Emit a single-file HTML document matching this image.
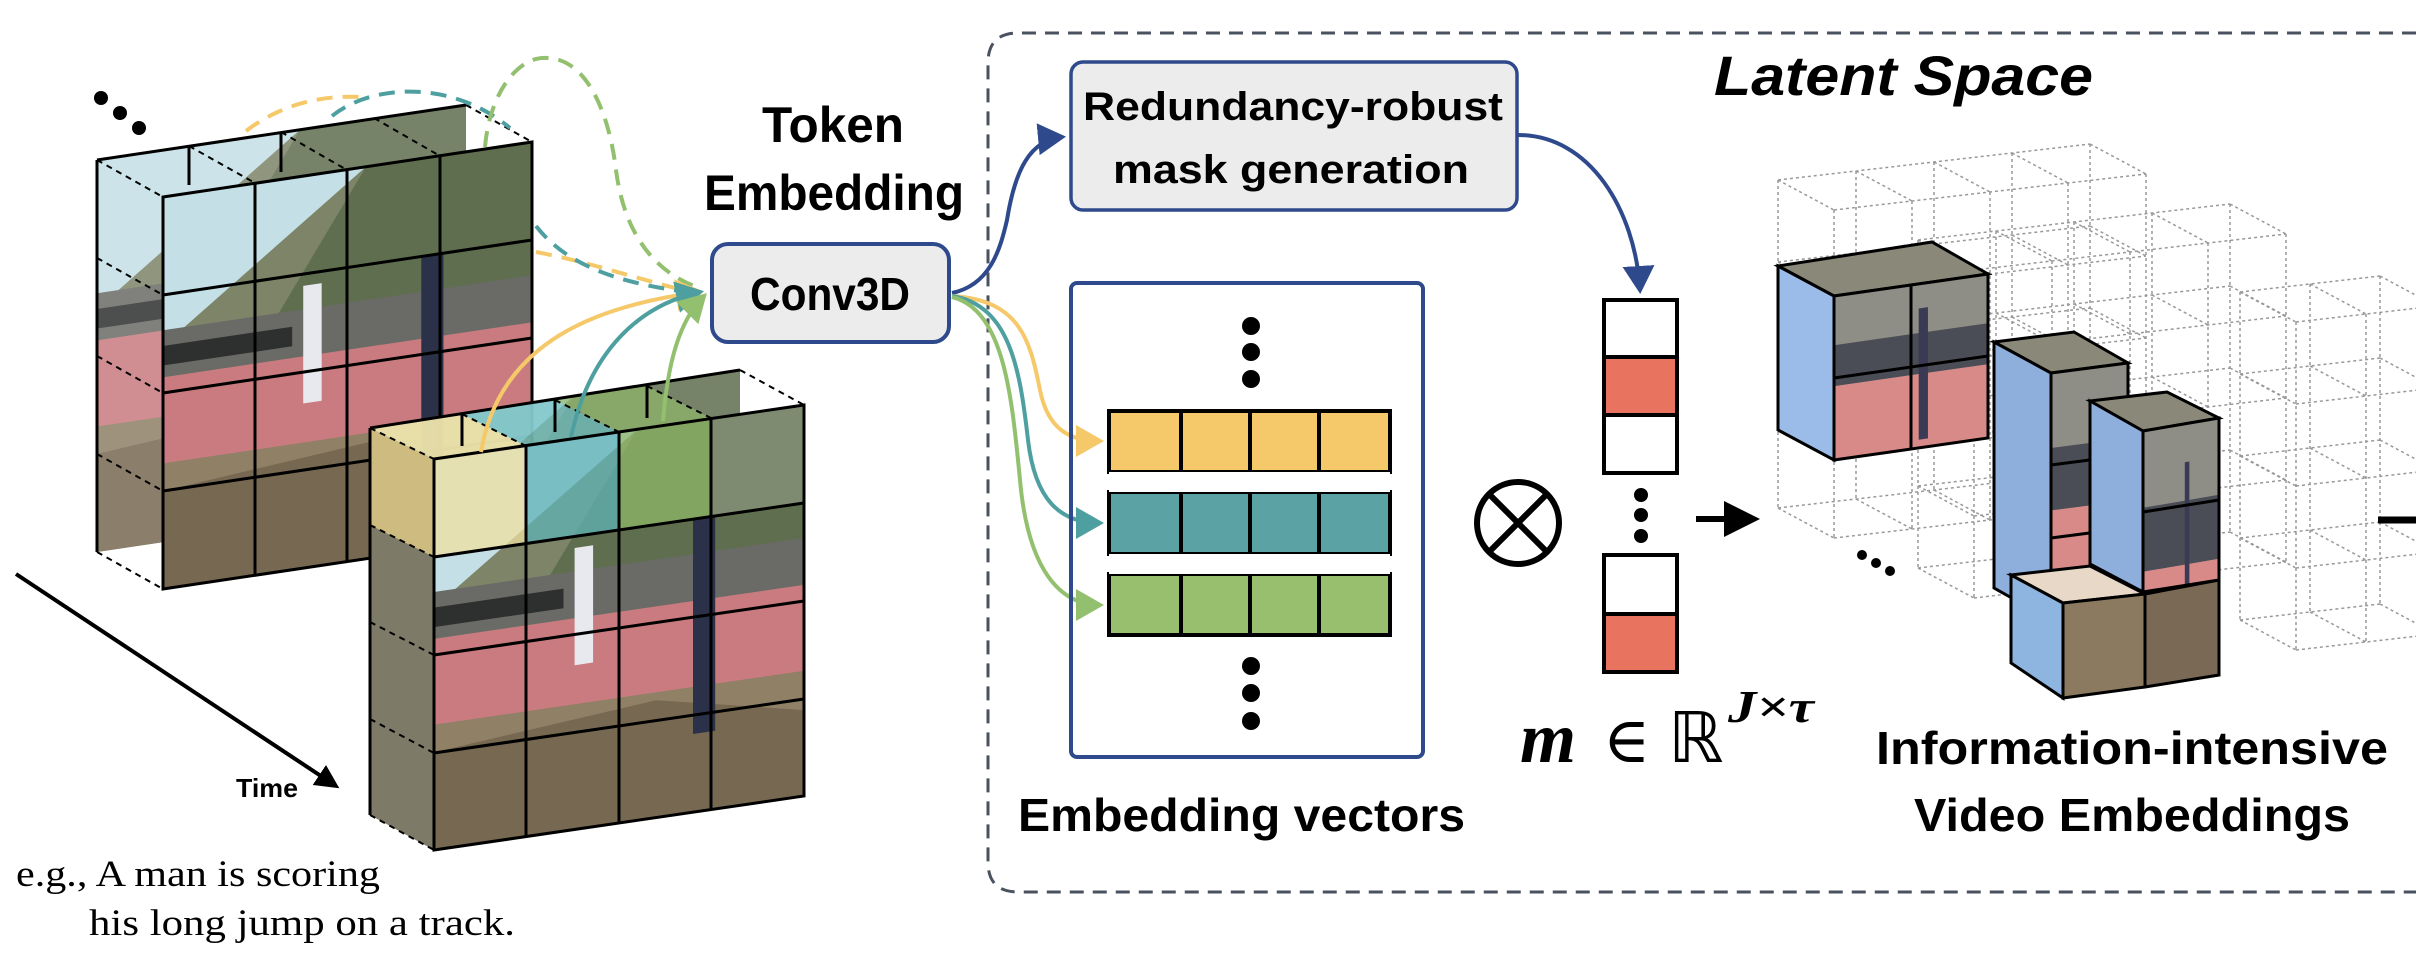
<!DOCTYPE html>
<html><head><meta charset="utf-8"><style>
html,body{margin:0;padding:0;background:#fff;}
svg{display:block;}
text{font-family:"Liberation Sans",sans-serif;font-weight:bold;fill:#000;}
</style></head><body>
<svg id="s" width="2416" height="958" viewBox="0 0 2416 958" xmlns="http://www.w3.org/2000/svg">
<defs>
<g id="photo">
  <rect x="0" y="0" width="1" height="1" fill="#7d8468"/>
  <polygon points="0,0 0.55,0 0,0.38" fill="#c4e0e6"/>
  <polygon points="0.55,0 1,0 1,0.45 0.6,0.4 0.3,0.36" fill="#5f6e4e"/>
  <rect x="0" y="0.34" width="1" height="0.12" fill="#6a6a66"/>
  <rect x="0" y="0.38" width="0.35" height="0.05" fill="#2e3030"/>
  <rect x="0" y="0.46" width="1" height="0.22" fill="#c97b7f"/>
  <rect x="0" y="0.68" width="1" height="0.32" fill="#8f8066"/>
  <polygon points="0,0.75 0.6,0.7 1,0.78 1,1 0,1" fill="#6c5e4a" opacity="0.7"/>
  <rect x="0.7" y="0.25" width="0.06" height="0.55" fill="#2b3148"/>
  <rect x="0.38" y="0.28" width="0.05" height="0.3" fill="#e8e8ef"/>
</g>
<g id="photo2">
  <rect x="0" y="0" width="1" height="1" fill="#8e8e86"/>
  <rect x="0" y="0.3" width="1" height="0.25" fill="#4a4d55"/>
  <rect x="0" y="0.55" width="1" height="0.45" fill="#d78a88"/>
  <rect x="0.55" y="0.15" width="0.06" height="0.8" fill="#3a3a55"/>
</g>
<marker id="ab" markerWidth="8" markerHeight="8" refX="6" refY="4" orient="auto" markerUnits="strokeWidth"><path d="M0,0 L7,4 L0,8 Z" fill="#2e4a8c"/></marker>
<marker id="ay" markerWidth="8" markerHeight="8" refX="6" refY="4" orient="auto" markerUnits="strokeWidth"><path d="M0,0 L7,4 L0,8 Z" fill="#f5c96a"/></marker>
<marker id="at" markerWidth="8" markerHeight="8" refX="6" refY="4" orient="auto" markerUnits="strokeWidth"><path d="M0,0 L7,4 L0,8 Z" fill="#4e9fa0"/></marker>
<marker id="ag" markerWidth="8" markerHeight="8" refX="6" refY="4" orient="auto" markerUnits="strokeWidth"><path d="M0,0 L7,4 L0,8 Z" fill="#93c06e"/></marker>
<marker id="ak" markerWidth="6" markerHeight="6" refX="5" refY="3" orient="auto" markerUnits="strokeWidth"><path d="M0,0 L6,3 L0,6 Z" fill="#000"/></marker>
</defs>

<path d="M2416,33 L1018,33 Q988,33 988,63 L988,862 Q988,892 1018,892 L2416,892" fill="none" stroke="#4a5260" stroke-width="3" stroke-dasharray="14,9"/>

<!-- BACK FRAME -->
<g>
  <use href="#photo" transform="matrix(369,-55,0,392,97,160)" opacity="0.85"/>
  <use href="#photo" transform="matrix(369,-55,0,392,163,197)"/>
  <g stroke="#000" stroke-width="3" fill="none">
    <polygon points="163,197 532,142 532,534 163,589"/>
    <line x1="255" y1="183" x2="255" y2="575"/>
    <line x1="347" y1="170" x2="347" y2="562"/>
    <line x1="440" y1="156" x2="440" y2="548"/>
    <line x1="163" y1="295" x2="532" y2="240"/>
    <line x1="163" y1="393" x2="532" y2="338"/>
    <line x1="163" y1="491" x2="532" y2="436"/>
    <line x1="97" y1="160" x2="97" y2="552"/>
    <line x1="97" y1="160" x2="466" y2="105"/>
    <line x1="189" y1="146" x2="189" y2="185"/>
    <line x1="281" y1="132" x2="281" y2="172"/>
  </g>
  <g stroke="#000" stroke-width="2" stroke-dasharray="6,5" fill="none">
    <line x1="97" y1="160" x2="163" y2="197"/>
    <line x1="97" y1="258" x2="163" y2="295"/>
    <line x1="97" y1="356" x2="163" y2="393"/>
    <line x1="97" y1="454" x2="163" y2="491"/>
    <line x1="97" y1="552" x2="163" y2="589"/>
    <line x1="466" y1="105" x2="532" y2="142"/>
    <line x1="189" y1="146" x2="255" y2="183"/>
    <line x1="281" y1="132" x2="347" y2="170"/>
    <line x1="374" y1="118" x2="440" y2="156"/>
  </g>
</g>

<!-- FRONT FRAME -->
<g>
  <use href="#photo" transform="matrix(370,-58,0,387,370,428)" opacity="0.85"/>
  <polygon points="370,428 434,459 434,850 370,815" fill="#7d7a68"/>
  <use href="#photo" transform="matrix(370,-54,0,391,434,459)"/>
  <polygon points="370,428 462,414 526,446 434,459" fill="#f5e29a" opacity="0.75"/>
  <polygon points="370,428 434,459 434,557 370,525" fill="#f0d78a" opacity="0.7"/>
  <polygon points="434,459 526,446 526,544 434,557" fill="#f0e0a0" opacity="0.75"/>
  <polygon points="462,414 555,400 619,432 526,446" fill="#6cc0c2" opacity="0.7"/>
  <polygon points="526,446 619,432 619,530 526,544" fill="#5fb3b5" opacity="0.75"/>
  <polygon points="555,400 647,386 711,418 619,432" fill="#8fb86a" opacity="0.7"/>
  <polygon points="619,432 711,418 711,516 619,530" fill="#8fb86a" opacity="0.75"/>
  <polygon points="711,418 804,405 804,503 711,516" fill="#a0a894" opacity="0.5"/>
  <g stroke="#000" stroke-width="3" fill="none">
    <polygon points="434,459 804,405 804,796 434,850"/>
    <line x1="526" y1="446" x2="526" y2="837"/>
    <line x1="619" y1="432" x2="619" y2="823"/>
    <line x1="711" y1="418" x2="711" y2="810"/>
    <line x1="434" y1="557" x2="804" y2="503"/>
    <line x1="434" y1="655" x2="804" y2="601"/>
    <line x1="434" y1="753" x2="804" y2="699"/>
    <line x1="370" y1="428" x2="370" y2="815"/>
    <line x1="370" y1="428" x2="740" y2="370"/>
    <line x1="462" y1="414" x2="462" y2="446"/>
    <line x1="555" y1="400" x2="555" y2="432"/>
    <line x1="647" y1="386" x2="647" y2="418"/>
  </g>
  <g stroke="#000" stroke-width="2" stroke-dasharray="6,5" fill="none">
    <line x1="370" y1="428" x2="434" y2="459"/>
    <line x1="370" y1="525" x2="434" y2="557"/>
    <line x1="370" y1="622" x2="434" y2="655"/>
    <line x1="370" y1="719" x2="434" y2="753"/>
    <line x1="370" y1="815" x2="434" y2="850"/>
    <line x1="740" y1="370" x2="804" y2="405"/>
    <line x1="462" y1="414" x2="526" y2="446"/>
    <line x1="555" y1="400" x2="619" y2="432"/>
    <line x1="647" y1="386" x2="711" y2="418"/>
  </g>
</g>

<circle cx="101" cy="98" r="7"/><circle cx="120" cy="113" r="7"/><circle cx="139" cy="128" r="7"/>

<g fill="none" stroke-width="4" stroke-dasharray="16,10">
  <path d="M246,131 C280,105 320,95 360,97" stroke="#f5c96a"/>
  <path d="M536,252 C590,262 640,280 695,293" stroke="#f5c96a"/>
  <path d="M332,116 C370,85 450,78 510,128" stroke="#4e9fa0"/>
  <path d="M536,226 C570,270 630,285 695,293" stroke="#4e9fa0"/>
  <path d="M485,147 C490,90 520,55 548,58 C590,60 610,120 616,170 C625,240 660,275 700,288" stroke="#93c06e"/>
</g>
<g fill="none" stroke-width="4">
  <path d="M481,452 C500,340 600,305 700,292" stroke="#f5c96a" marker-end="url(#ay)"/>
  <path d="M571,437 C590,350 640,305 700,292" stroke="#4e9fa0" marker-end="url(#at)"/>
  <path d="M663,421 C668,360 680,320 704,296" stroke="#93c06e" marker-end="url(#ag)"/>
</g>

<line x1="16" y1="574" x2="336" y2="786" stroke="#000" stroke-width="4" marker-end="url(#ak)"/>
<text x="236" y="797" font-size="26" textLength="62" lengthAdjust="spacingAndGlyphs">Time</text>

<text x="16" y="886" font-size="37" style="font-family:'Liberation Serif',serif;font-weight:normal" textLength="364" lengthAdjust="spacingAndGlyphs">e.g., A man is scoring</text>
<text x="89" y="935" font-size="37" style="font-family:'Liberation Serif',serif;font-weight:normal" textLength="426" lengthAdjust="spacingAndGlyphs">his long jump on a track.</text>

<text x="762" y="142" font-size="50" textLength="142" lengthAdjust="spacingAndGlyphs">Token</text>
<text x="704" y="210" font-size="50" textLength="260" lengthAdjust="spacingAndGlyphs">Embedding</text>

<rect x="712" y="244" width="237" height="98" rx="16" fill="#ececec" stroke="#2e4a8c" stroke-width="4"/>
<text x="750" y="310" font-size="46" textLength="160" lengthAdjust="spacingAndGlyphs">Conv3D</text>

<rect x="1071" y="62" width="446" height="148" rx="12" fill="#ececec" stroke="#2e4a8c" stroke-width="3.5"/>
<text x="1083" y="120" font-size="40" textLength="420" lengthAdjust="spacingAndGlyphs">Redundancy-robust</text>
<text x="1113" y="183" font-size="40" textLength="356" lengthAdjust="spacingAndGlyphs">mask generation</text>

<path d="M952,293 C990,285 1000,250 1007,220 C1015,170 1030,140 1062,137" fill="none" stroke="#2e4a8c" stroke-width="4" marker-end="url(#ab)"/>
<path d="M1518,135 C1590,135 1635,210 1640,290" fill="none" stroke="#2e4a8c" stroke-width="4" marker-end="url(#ab)"/>

<g fill="none" stroke-width="4">
  <path d="M952,296 C1020,300 1030,340 1040,390 C1048,430 1070,441 1100,441" stroke="#f5c96a" marker-end="url(#ay)"/>
  <path d="M952,296 C1010,305 1020,370 1028,440 C1035,500 1060,523 1100,523" stroke="#4e9fa0" marker-end="url(#at)"/>
  <path d="M952,297 C1005,310 1012,400 1020,480 C1028,570 1060,605 1100,605" stroke="#93c06e" marker-end="url(#ag)"/>
</g>

<rect x="1071" y="283" width="352" height="474" rx="6" fill="none" stroke="#2e4a8c" stroke-width="4"/>
<circle cx="1251" cy="326" r="9"/><circle cx="1251" cy="352" r="9"/><circle cx="1251" cy="379" r="9"/>
<circle cx="1251" cy="666" r="9"/><circle cx="1251" cy="693" r="9"/><circle cx="1251" cy="721" r="9"/>
<g stroke="#000" stroke-width="4">
  <rect x="1109" y="411" width="281" height="61" fill="#f5c96a"/>
  <rect x="1109" y="492" width="281" height="62" fill="#5aa2a4"/>
  <rect x="1109" y="574" width="281" height="61" fill="#98bf6e"/>
  <line x1="1181" y1="411" x2="1181" y2="635"/><line x1="1250" y1="411" x2="1250" y2="635"/><line x1="1319" y1="411" x2="1319" y2="635"/>
</g>
<rect x="1109" y="472" width="281" height="20" fill="#fff"/>
<rect x="1109" y="554" width="281" height="20" fill="#fff"/>
<text x="1018" y="831" font-size="46" textLength="447" lengthAdjust="spacingAndGlyphs">Embedding vectors</text>

<circle cx="1518" cy="523" r="41" fill="none" stroke="#000" stroke-width="6"/>
<line x1="1489" y1="494" x2="1547" y2="552" stroke="#000" stroke-width="6"/>
<line x1="1547" y1="494" x2="1489" y2="552" stroke="#000" stroke-width="6"/>

<g stroke="#000" stroke-width="4">
  <rect x="1604" y="300" width="73" height="57" fill="#fff"/>
  <rect x="1604" y="357" width="73" height="58" fill="#e8735f"/>
  <rect x="1604" y="415" width="73" height="58" fill="#fff"/>
  <rect x="1604" y="555" width="73" height="59" fill="#fff"/>
  <rect x="1604" y="614" width="73" height="58" fill="#e8735f"/>
</g>
<circle cx="1641" cy="495" r="7"/><circle cx="1641" cy="515" r="7"/><circle cx="1641" cy="536" r="7"/>
<line x1="1696" y1="519" x2="1754" y2="519" stroke="#000" stroke-width="6" marker-end="url(#ak)"/>
<text x="1520" y="762" font-size="72" style="font-family:'Liberation Serif',serif;font-style:italic;font-weight:bold">m</text>
<text x="1603" y="762" font-size="64" style="font-family:'DejaVu Serif',serif;font-weight:normal">∈</text>
<text x="1668" y="762" font-size="70" style="font-family:'DejaVu Sans',sans-serif;font-weight:normal">ℝ</text>
<text x="1728" y="722" font-size="46" style="font-family:'Liberation Serif',serif;font-style:italic" textLength="86" lengthAdjust="spacingAndGlyphs">J×τ</text>

<g id="lat" fill="none" stroke="#999" stroke-width="1.5" stroke-dasharray="3,3"></g>

<g stroke="#000" stroke-width="3">
  <polygon points="1778,266 1932,242 1988,274 1834,296" fill="#8a8878"/>
  <polygon points="1778,266 1834,296 1834,460 1778,430" fill="#9bbbe8"/>
  <use href="#photo2" transform="matrix(154,-22,0,164,1834,296)" stroke="none"/>
  <polygon points="1834,296 1988,274 1988,438 1834,460" fill="none"/>
  <line x1="1911" y1="285" x2="1911" y2="449"/>
  <line x1="1834" y1="378" x2="1988" y2="356"/>
  <polygon points="1994,342 2074,332 2128,363 2051,373" fill="#8a8878"/>
  <polygon points="1994,342 2051,373 2051,620 1994,588" fill="#8eaedc"/>
  <use href="#photo2" transform="matrix(77,-10,0,250,2051,373)" stroke="none"/>
  <polygon points="2051,373 2128,363 2128,613 2051,623" fill="none"/>
  <line x1="2051" y1="465" x2="2128" y2="455"/>
  <line x1="2051" y1="538" x2="2128" y2="528"/>
  <polygon points="2090,401 2167,392 2219,418 2143,431" fill="#8a8878"/>
  <polygon points="2090,401 2143,431 2143,592 2090,564" fill="#8eaedc"/>
  <use href="#photo2" transform="matrix(76,-13,0,256,2143,431)" stroke="none"/>
  <polygon points="2143,431 2219,418 2219,675 2143,687" fill="none"/>
  <line x1="2143" y1="512" x2="2219" y2="500"/>
  <line x1="2143" y1="592" x2="2219" y2="580"/>
  <polygon points="2011,575 2090,566 2145,594 2063,603" fill="#e8d8c8"/>
  <polygon points="2011,575 2063,603 2063,698 2011,663" fill="#8eb4e0"/>
  <polygon points="2063,603 2145,594 2145,687 2063,698" fill="#8c7a60"/>
  <polygon points="2145,594 2219,580 2219,675 2145,687" fill="#7a6a55"/>
</g>
<circle cx="1862" cy="555" r="5"/><circle cx="1876" cy="563" r="5"/><circle cx="1890" cy="571" r="5"/>
<line x1="2378" y1="520" x2="2416" y2="520" stroke="#000" stroke-width="7"/>

<text x="1714" y="95" font-size="56" style="font-style:italic" textLength="379" lengthAdjust="spacingAndGlyphs">Latent Space</text>
<text x="1876" y="764" font-size="46" textLength="512" lengthAdjust="spacingAndGlyphs">Information-intensive</text>
<text x="1914" y="831" font-size="46" textLength="436" lengthAdjust="spacingAndGlyphs">Video Embeddings</text>
</svg>
<script>
(function(){
var g=document.getElementById('lat'),d='';
function L(a,b){d+='M'+a[0]+','+a[1]+'L'+b[0]+','+b[1];}
function lattice(ox,oy,nc,nr,cw,ch,sl,dx,dy){
 function P(i,j,k){return [ox+i*cw+k*dx, oy+j*ch-i*sl+k*dy];}
 for(var k=0;k<2;k++){
  for(var i=0;i<=nc;i++)L(P(i,0,k),P(i,nr,k));
  for(var j=0;j<=nr;j++)L(P(0,j,k),P(nc,j,k));
 }
 for(var i=0;i<=nc;i++)for(var j=0;j<=nr;j++)L(P(i,j,0),P(i,j,1));
}
lattice(1778,180,4,4,78,82,9,56,30);
lattice(1918,240,4,4,78,82,9,56,30);
lattice(2240,292,2,4,70,82,8,56,30);
var p=document.createElementNS('http://www.w3.org/2000/svg','path');
p.setAttribute('d',d);g.appendChild(p);
})();
</script>
</body></html>
